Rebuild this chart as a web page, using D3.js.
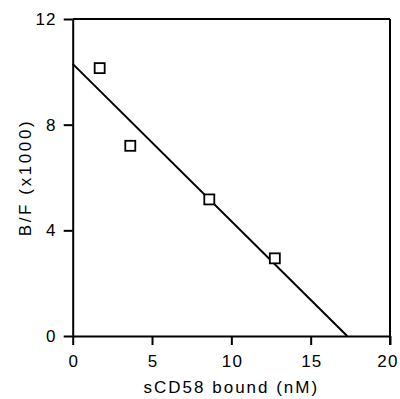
<!DOCTYPE html>
<html>
<head>
<meta charset="utf-8">
<script src="https://cdn.jsdelivr.net/npm/d3@7"></script>
<style>
  body { margin: 0; background: #fff; }
  text { font-family: "Liberation Sans", Arial, sans-serif; fill: #000; }
</style>
</head>
<body>
<div id="chart"></div>
<script>
// measured points: sCD58 bound (nM) vs B/F (x1000)
const boundNM = [1.7, 3.63, 8.61, 12.74];
const bfRatio = [10.14, 7.2, 5.17, 2.94];
// fitted Scatchard line: y-intercept and x-intercept
const fitYIntercept = 10.3;
const fitXIntercept = 17.3;
const xTicks = [0, 5, 10, 15, 20];
const yTicks = [0, 4, 8, 12];

const width = 400, height = 399;
const margin = { top: 19, right: 10, bottom: 63, left: 72.7 };

const svg = d3.select("#chart").append("svg")
  .attr("width", width)
  .attr("height", height);

const x = d3.scaleLinear().domain([0, 20]).range([margin.left, width - margin.right]);
const y = d3.scaleLinear().domain([0, 12]).range([height - margin.bottom, margin.top]);

const axisStyle = g => {
  g.select(".domain").attr("stroke-width", 2);
  g.selectAll(".tick line").attr("stroke-width", 2);
  g.selectAll(".tick text")
    .attr("font-size", "17px")
    .attr("letter-spacing", "1.2px")
    .attr("font-family", "Liberation Sans, Arial, sans-serif");
};

svg.append("g")
  .attr("transform", `translate(0,${y(0)})`)
  .call(d3.axisBottom(x).tickValues(xTicks).tickSize(9).tickPadding(10).tickSizeOuter(0))
  .call(axisStyle)
  .selectAll(".tick text")
  // last label sits at the window edge; pull it in a little so it is not clipped
  .attr("dx", d => d === 20 ? "-2.5px" : "0.6px");

svg.append("g")
  .attr("transform", `translate(${x(0)},0)`)
  .call(d3.axisLeft(y).tickValues(yTicks).tickSize(9).tickPadding(7).tickSizeOuter(0))
  .call(axisStyle);

// top and right frame
svg.append("line")
  .attr("x1", x(0)).attr("x2", x(20))
  .attr("y1", y(12)).attr("y2", y(12))
  .attr("stroke", "#000").attr("stroke-width", 2);
svg.append("line")
  .attr("x1", x(20)).attr("x2", x(20))
  .attr("y1", y(12)).attr("y2", y(0) + 9)
  .attr("stroke", "#000").attr("stroke-width", 2);

// fitted line
svg.append("line")
  .attr("x1", x(0)).attr("y1", y(fitYIntercept))
  .attr("x2", x(fitXIntercept)).attr("y2", y(0))
  .attr("stroke", "#000").attr("stroke-width", 2);

// data squares
const s = 10;
svg.append("g")
  .selectAll("rect")
  .data(boundNM.map((d, i) => [d, bfRatio[i]]))
  .join("rect")
  .attr("x", d => x(d[0]) - s / 2)
  .attr("y", d => y(d[1]) - s / 2)
  .attr("width", s)
  .attr("height", s)
  .attr("fill", "#fff")
  .attr("stroke", "#000")
  .attr("stroke-width", 1.8);

// axis titles
svg.append("text")
  .attr("x", (x(0) + x(20)) / 2)
  .attr("y", 393)
  .attr("text-anchor", "middle")
  .attr("font-size", "17px")
  .attr("letter-spacing", "2px")
  .text("sCD58 bound (nM)");

svg.append("text")
  .attr("transform", `translate(31,${(y(0) + y(12)) / 2}) rotate(-90)`)
  .attr("text-anchor", "middle")
  .attr("font-size", "17px")
  .attr("letter-spacing", "2.6px")
  .text("B/F (x1000)");
</script>
</body>
</html>
